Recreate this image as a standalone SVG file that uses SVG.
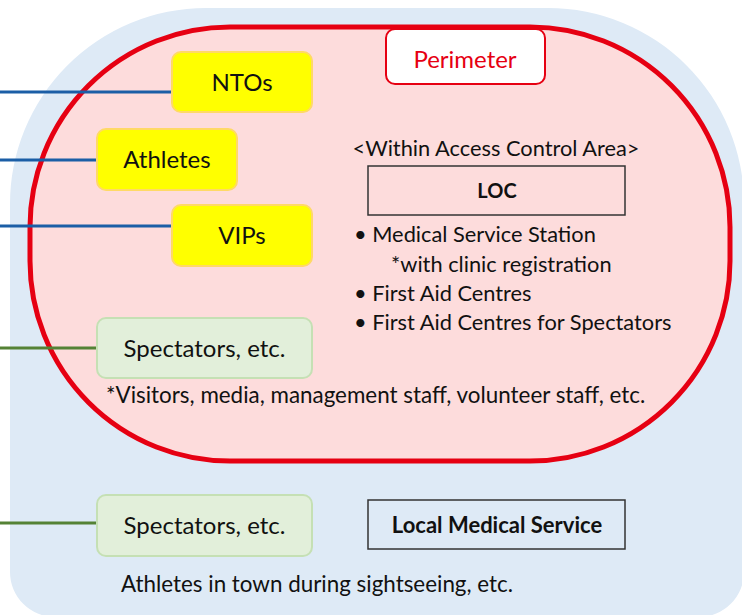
<svg xmlns="http://www.w3.org/2000/svg" width="742" height="615" viewBox="0 0 742 615">
  <style>
    text { font-family: Lato, "Open Sans", "Liberation Sans", sans-serif; fill: #111; }
    .lbl { font-size: 24px; text-anchor: middle; }
    .txt { font-size: 21.8px; }
    .note { font-size: 22.4px; }
    .bold { font-weight: bold; text-anchor: middle; }
    .yel { fill: #FFFF00; stroke: #FFD966; stroke-width: 2; }
    .grn { fill: #E2EFDA; stroke: #C5E0B4; stroke-width: 2; }
    .blu { stroke: #1B5EA6; stroke-width: 3; fill: none; }
    .gln { stroke: #548235; stroke-width: 3; fill: none; }
    .box { fill: none; stroke: #333; stroke-width: 1.5; }
  </style>
  <rect width="742" height="615" fill="#FFFFFF"/>
  <g id="outer-area">
    <path d="M10,205 A196,196 0 0 1 206,8 L548,8 A196,196 0 0 1 744,204 L744,572 A45,45 0 0 1 699,617 L55,617 A45,45 0 0 1 10,572 Z" fill="#DEEAF6"/>
  </g>
  <g id="perimeter-area">
    <rect x="30" y="27" width="700" height="434" rx="200" ry="200" fill="#FDDCDC" stroke="#E60012" stroke-width="5"/>
  </g>
  <g id="connectors">
    <line class="blu" x1="0" y1="92" x2="172" y2="92"/>
    <line class="blu" x1="0" y1="160" x2="97" y2="160"/>
    <line class="blu" x1="0" y1="226" x2="172" y2="226"/>
    <line class="gln" x1="0" y1="348" x2="97" y2="348"/>
    <line class="gln" x1="0" y1="523" x2="97" y2="523"/>
  </g>
  <g id="perimeter-label">
    <rect x="386" y="29" width="159" height="55" rx="9" fill="#FFFFFF" stroke="#E60012" stroke-width="2"/>
    <text class="lbl" x="465" y="68" style="fill:#E60012">Perimeter</text>
  </g>
  <g id="ntos">
    <rect class="yel" x="172" y="52" width="140" height="60" rx="9"/>
    <text class="lbl" x="242" y="91">NTOs</text>
  </g>
  <g id="athletes">
    <rect class="yel" x="97" y="129" width="140" height="61" rx="9"/>
    <text class="lbl" x="167" y="168">Athletes</text>
  </g>
  <g id="vips">
    <rect class="yel" x="172" y="205" width="140" height="61" rx="9"/>
    <text class="lbl" x="242" y="244">VIPs</text>
  </g>
  <g id="spectators-inside">
    <rect class="grn" x="97" y="318" width="215" height="60" rx="9"/>
    <text class="lbl" x="204.5" y="357">Spectators, etc.</text>
  </g>
  <g id="spectators-outside">
    <rect class="grn" x="97" y="495" width="215" height="61" rx="9"/>
    <text class="lbl" x="204.5" y="534">Spectators, etc.</text>
  </g>
  <g id="access-control">
    <text class="txt" x="496" y="156" text-anchor="middle">&lt;Within Access Control Area&gt;</text>
  </g>
  <g id="loc">
    <rect class="box" x="368" y="166" width="257" height="49"/>
    <text class="bold" x="497" y="198" style="font-size:20px">LOC</text>
  </g>
  <g id="loc-services">
    <text class="txt" x="354" y="242">• Medical Service Station</text>
    <text class="txt" x="391" y="272">*with clinic registration</text>
    <text class="txt" x="354" y="301">• First Aid Centres</text>
    <text class="txt" x="354" y="330">• First Aid Centres for Spectators</text>
  </g>
  <g id="visitors-note">
    <text class="note" x="106" y="403">*Visitors, media, management staff, volunteer staff, etc.</text>
  </g>
  <g id="local-medical">
    <rect class="box" x="368" y="500" width="257" height="49"/>
    <text class="bold" x="497" y="533" style="font-size:22px">Local Medical Service</text>
  </g>
  <g id="town-note">
    <text class="note" x="121" y="592">Athletes in town during sightseeing, etc.</text>
  </g>
</svg>
